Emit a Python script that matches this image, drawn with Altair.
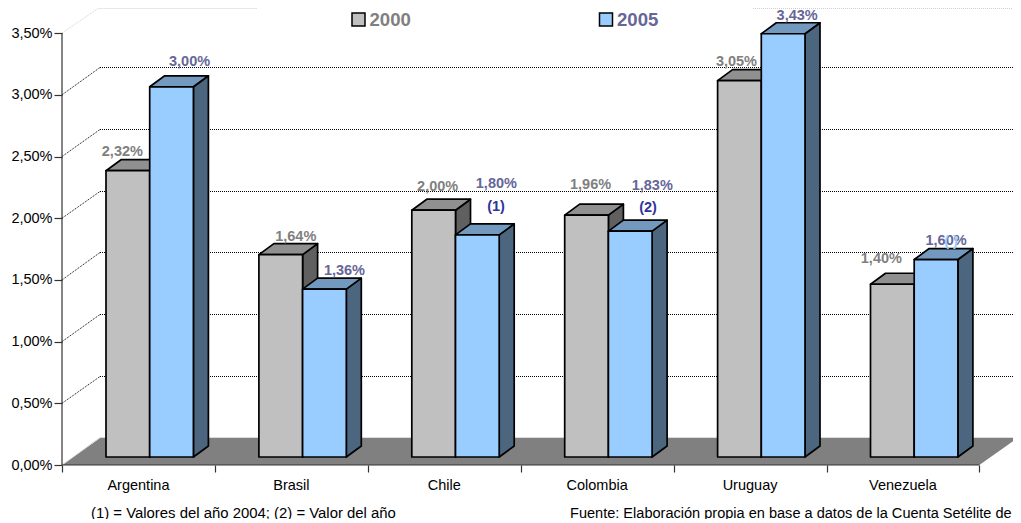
import math
import altair as alt
import pandas as pd

categories = ["Argentina", "Brasil", "Chile", "Colombia", "Uruguay", "Venezuela"]
values_2000 = [2.32, 1.64, 2.00, 1.96, 3.05, 1.40]
values_2005 = [3.00, 1.36, 1.80, 1.83, 3.43, 1.60]
labels_2000 = ["2,32%", "1,64%", "2,00%", "1,96%", "3,05%", "1,40%"]
labels_2005 = ["3,00%", "1,36%", "1,80%", "1,83%", "3,43%", "1,60%"]
y_ticks = [0, 0.5, 1.0, 1.5, 2.0, 2.5, 3.0, 3.5]

# layout constants (pixels -> data units)
PX_CAT = 152.9
PX_PCT = 123.4
LEFT, ZERO = 62, 465
PLOT_W, PLOT_H = 951, 457
def ux(p): return p / PX_CAT
def uy(p): return p / PX_PCT
def fx(px): return (px - LEFT) / PX_CAT
def fy(py): return (ZERO - py) / PX_PCT

WALL_X, WALL_Y = ux(38), uy(27)
BAR_LEFT, BAR_W = ux(44), ux(43.7)
BASE = uy(8)
DEPTH_X, DEPTH_Y = ux(15), uy(11)

# label offsets from bar front-top centre (px)
off_2000 = [(-5.5, -20), (15, -19), (4, -25), (4, -32), (-3, -20), (-11, -27)]
off_2005 = [(18, -26), (20, -20), (19, -52), (22, -47), (14, -19.5), (10, -20)]

xs = alt.Scale(domain=[0, PLOT_W / PX_CAT], nice=False, zero=False)
ys = alt.Scale(domain=[0, PLOT_H / PX_PCT], nice=False, zero=False)
FONT = "Liberation Sans"
x_axis = alt.Axis(values=list(range(7)), labels=False, tickSize=7, tickColor="#333333",
                  tickWidth=1.2, domain=False, grid=False, title=None)
y_axis = alt.Axis(values=y_ticks, tickSize=8, tickColor="#333333", tickWidth=1.2, domain=False,
                  grid=False, title=None,
                  labelExpr="replace(format(datum.value,'.2f'),'.',',')+'%'",
                  labelFont=FONT, labelFontSize=14.5, labelColor="#000000", labelPadding=2)
def X(f="x"): return alt.X(f"{f}:Q", scale=xs, axis=x_axis)
def Y(f="y"): return alt.Y(f"{f}:Q", scale=ys, axis=y_axis)

layers = []

# floor
floor = pd.DataFrame({"y": [0, WALL_Y], "x": [0, WALL_X], "x2": [6, 6 + WALL_X]})
layers.append(alt.Chart(floor).mark_area(orient="horizontal", color="#808080").encode(
    x=X(), x2="x2:Q", y=Y()))
# pale back and left edge of the floor
edge = pd.DataFrame({"x": [0, WALL_X, 6 + WALL_X], "y": [0, fy(437.5), fy(437.5)]})
layers.append(alt.Chart(edge).mark_line(color="#dddddd", strokeWidth=1).encode(x=X(), y=Y()))

# gridlines: slanted part, then the dotted line on the back wall
slant, back = [], []
for v in y_ticks[1:-1]:
    py = math.floor(ZERO - PX_PCT * (v + WALL_Y)) + 0.5
    slant += [{"x": 0, "y": v, "g": v}, {"x": WALL_X, "y": fy(py), "g": v}]
    back += [{"x": fx(100), "y": fy(py), "g": v}, {"x": 6 + WALL_X, "y": fy(py), "g": v}]
layers.append(alt.Chart(pd.DataFrame(slant)).mark_line(color="#000000", strokeWidth=1, strokeDash=[1, 1]).encode(
    x=X(), y=Y(), detail="g:N"))
layers.append(alt.Chart(pd.DataFrame(back)).mark_line(color="#000000", strokeWidth=1, strokeDash=[1, 1]).encode(
    x=X(), y=Y(), detail="g:N"))

# faint top gridline, interrupted behind the legend
top_y = fy(8.5)
rows = [{"x": 0, "y": 3.5, "g": "a"}, {"x": fx(98), "y": top_y, "g": "a"}, {"x": fx(257), "y": top_y, "g": "a"},
        {"x": fx(753), "y": top_y, "g": "b"}, {"x": 6 + WALL_X, "y": top_y, "g": "b"}]
layers.append(alt.Chart(pd.DataFrame(rows)).mark_line(color="#d0d0d0", strokeWidth=1, strokeDash=[1, 1]).encode(
    x=X(), y=Y(), detail="g:N"))

# axis lines
layers.append(alt.Chart(pd.DataFrame({"x": [0.0], "y": [0.0], "y2": [3.5]})).mark_rule(color="#333333", strokeWidth=1.2).encode(
    x=X(), y=Y(), y2="y2:Q"))
layers.append(alt.Chart(pd.DataFrame({"x": [0.0], "x2": [6.0], "y": [0.0]})).mark_rule(color="#333333", strokeWidth=1.2).encode(
    x=X(), x2="x2:Q", y=Y()))

def bars(values, shift, front, top, side):
    side_rows, top_rows, front_rows = [], [], []
    for i, v in enumerate(values):
        l = i + BAR_LEFT + shift
        r = l + BAR_W
        h = v + BASE
        side_rows += [{"x": r, "y": BASE, "y2": h, "id": i},
                      {"x": r + DEPTH_X, "y": BASE + DEPTH_Y, "y2": h + DEPTH_Y, "id": i}]
        top_rows += [{"x": l, "x2": r, "y": h, "id": i},
                     {"x": l + DEPTH_X, "x2": r + DEPTH_X, "y": h + DEPTH_Y, "id": i}]
        front_rows.append({"x": l, "x2": r, "y": BASE, "y2": h})
    stroke = dict(stroke="#000000", strokeWidth=1.7, strokeJoin="round")
    return [
        alt.Chart(pd.DataFrame(side_rows)).mark_area(fill=side, **stroke).encode(x=X(), y=Y(), y2="y2:Q", detail="id:N"),
        alt.Chart(pd.DataFrame(top_rows)).mark_area(orient="horizontal", fill=top, **stroke).encode(x=X(), x2="x2:Q", y=Y(), detail="id:N"),
        alt.Chart(pd.DataFrame(front_rows)).mark_rect(fill=front, **stroke).encode(x=X(), x2="x2:Q", y=Y(), y2="y2:Q"),
    ]

layers += bars(values_2000, 0, "#C0C0C0", "#909090", "#606060")
layers += bars(values_2005, BAR_W, "#99CCFF", "#7399BF", "#4D6680")

# value labels
def value_labels(values, labels, shift, offs, color):
    rows = [{"x": i + BAR_LEFT + shift + BAR_W / 2 + ux(o[0]), "y": v + BASE - uy(o[1]), "t": t}
            for i, (v, t, o) in enumerate(zip(values, labels, offs))]
    return alt.Chart(pd.DataFrame(rows)).mark_text(font=FONT, fontWeight="bold", fontSize=14.5, dy=1.5,
        color=color, align="center", baseline="middle").encode(x=X(), y=Y(), text="t:N")

layers.append(value_labels(values_2000, labels_2000, 0, off_2000, "#808080"))
layers.append(value_labels(values_2005, labels_2005, BAR_W, off_2005, "#666699"))
# light marker over the Venezuela 2005 label
layers.append(alt.Chart(pd.DataFrame({"x": [fx(951)], "y": [fy(240)], "t": ["( )"]})).mark_text(
    font=FONT, fontWeight="bold", fontSize=14.5, dy=1.5, color="#99CCFF", align="center", baseline="middle").encode(
    x=X(), y=Y(), text="t:N"))

# notes (1), (2)
notes = pd.DataFrame({"x": [fx(496), fx(648)], "y": [fy(205), fy(206)], "t": ["(1)", "(2)"]})
layers.append(alt.Chart(notes).mark_text(font=FONT, fontWeight="bold", fontSize=14.5, dy=1.5, color="#333399",
    align="center", baseline="middle").encode(x=X(), y=Y(), text="t:N"))

# category labels
cat_df = pd.DataFrame({"x": [i + 0.5 for i in range(6)], "y": [fy(485)] * 6, "t": categories})
layers.append(alt.Chart(cat_df).mark_text(font=FONT, fontSize=14.5, dy=1, color="#000000", baseline="middle",
    align="center").encode(x=X(), y=Y(), text="t:N"))

# footnotes
foot1 = pd.DataFrame({"x": [fx(91)], "y": [fy(512)], "t": ["(1) = Valores del año 2004; (2) = Valor del año"]})
foot2 = pd.DataFrame({"x": [fx(570)], "y": [fy(512)], "t": ["Fuente: Elaboración propia en base a datos de la Cuenta Setélite de"]})
layers.append(alt.Chart(foot1).mark_text(font=FONT, fontSize=14.9, dy=1.5, color="#000000", baseline="middle",
    align="left").encode(x=X(), y=Y(), text="t:N"))
layers.append(alt.Chart(foot2).mark_text(font=FONT, fontSize=14.55, dy=1.5, color="#000000", baseline="middle",
    align="left").encode(x=X(), y=Y(), text="t:N"))

# legend
leg = pd.DataFrame({"x": [fx(352)], "x2": [fx(365)], "y": [fy(26)], "y2": [fy(13)]})
layers.append(alt.Chart(leg).mark_rect(fill="#C0C0C0", stroke="#000000", strokeWidth=1.5).encode(x=X(), x2="x2:Q", y=Y(), y2="y2:Q"))
leg2 = pd.DataFrame({"x": [fx(599.5)], "x2": [fx(612.5)], "y": [fy(26)], "y2": [fy(13)]})
layers.append(alt.Chart(leg2).mark_rect(fill="#99CCFF", stroke="#000000", strokeWidth=1.5).encode(x=X(), x2="x2:Q", y=Y(), y2="y2:Q"))
lt1 = pd.DataFrame({"x": [fx(369.5)], "y": [fy(20)], "t": ["2000"]})
lt2 = pd.DataFrame({"x": [fx(617)], "y": [fy(20)], "t": ["2005"]})
layers.append(alt.Chart(lt1).mark_text(font=FONT, fontWeight="bold", fontSize=18.6, color="#808080", align="left", baseline="middle").encode(x=X(), y=Y(), text="t:N"))
layers.append(alt.Chart(lt2).mark_text(font=FONT, fontWeight="bold", fontSize=18.6, color="#666699", align="left", baseline="middle").encode(x=X(), y=Y(), text="t:N"))

chart = alt.layer(*layers).properties(
    width=PLOT_W, height=PLOT_H,
    padding={"left": 54, "top": 0, "right": 0, "bottom": 54},
    autosize=alt.AutoSizeParams(type="none"),
    background="#ffffff",
).configure_view(stroke=None)

chart.save("out.html", embed_options={"renderer": "svg", "actions": False})
